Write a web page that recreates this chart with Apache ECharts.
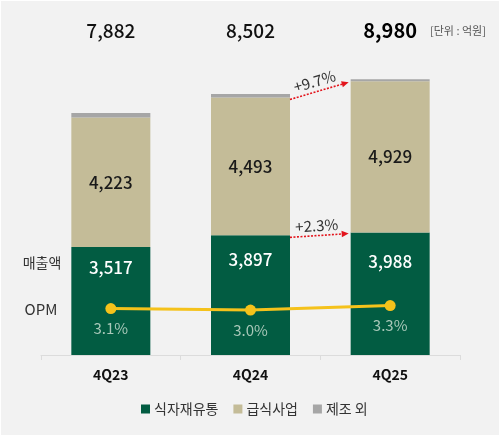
<!DOCTYPE html>
<html>
<head>
<meta charset="utf-8">
<script src="https://cdn.jsdelivr.net/npm/echarts@6/dist/echarts.min.js"></script>
<style>
html,body{margin:0;padding:0;background:#ffffff;}
#c{position:absolute;left:1px;top:1px;width:498px;height:434px;background:#f2f2f2;}
</style>
</head>
<body>
<div id="c"></div>
<script>
// ---- data ----
var categories = ['4Q23', '4Q24', '4Q25'];
var totals = [7882, 8502, 8980];
var foodDistribution = [3517, 3897, 3988];   // 식자재유통
var foodService = [4223, 4493, 4929];        // 급식사업
var opm = [3.1, 3.0, 3.3];
var growthLabels = ['+9.7%', '+2.3%'];
var seriesNames = ['식자재유통', '급식사업', '제조 외'];
var unitText = '[단위 : 억원]';

var manufacturing = totals.map(function (t, i) { return t - foodDistribution[i] - foodService[i]; });

// ---- styles (kept apart from data) ----
var greenLabelDistance = [12, 16, 20];
var FONT = '"Noto Sans CJK KR", "Noto Sans", sans-serif';
var C_GREEN = '#025c42', C_TAN = '#c4bc98', C_GREY = '#a6a6a6', C_LINE = '#f5c21b';
var BAR_W = 79;

var chart = echarts.init(document.getElementById('c'), null, {renderer: 'canvas'});

var option = {
  backgroundColor: '#f2f2f2',
  animation: false,
  grid: {left: 40, right: 39, top: 47, bottom: 80},
  legend: {
    data: seriesNames,
    bottom: 14,
    left: 135,
    icon: 'rect',
    itemWidth: 9, itemHeight: 9, itemGap: 15,
    textStyle: {fontFamily: FONT, fontSize: 14, color: '#333333', padding: [0, 0, 0, -1]}
  },
  xAxis: [{
    type: 'category',
    data: categories,
    axisLine: {lineStyle: {color: '#dcdcdc', width: 1}},
    axisTick: {show: true, length: 5, lineStyle: {color: '#dcdcdc'}},
    axisLabel: {margin: 13, fontFamily: FONT, fontSize: 14, fontWeight: 'bold', color: '#111111'}
  }, {
    type: 'category',
    position: 'top',
    data: totals.map(function (t) { return t.toLocaleString('en-US'); }),
    axisLine: {show: false}, axisTick: {show: false},
    axisLabel: {
      margin: 8,
      formatter: function (v, i) { return i === totals.length - 1 ? '{b|' + v + '}' : '{n|' + v + '}'; },
      rich: {
        n: {fontFamily: FONT, fontSize: 19, fontWeight: 500, color: '#111111'},
        b: {fontFamily: FONT, fontSize: 20, fontWeight: 'bold', color: '#000000'}
      }
    }
  }],
  yAxis: [{
    type: 'value', min: 0, max: 10000, show: false, splitLine: {show: false}
  }, {
    type: 'value', min: 0, max: 20.5, show: false, splitLine: {show: false}
  }],
  series: [{
    name: seriesNames[0], type: 'bar', stack: 's', barWidth: BAR_W,
    itemStyle: {color: C_GREEN},
    data: foodDistribution.map(function (v, i) {
      return {value: v, label: {distance: greenLabelDistance[i]}};
    }),
    label: {
      show: true, position: 'insideTop',
      formatter: function (p) { return p.value.toLocaleString('en-US'); },
      fontFamily: FONT, fontSize: 17, fontWeight: 500, color: '#ffffff'
    }
  }, {
    name: seriesNames[1], type: 'bar', stack: 's', barWidth: BAR_W,
    itemStyle: {color: C_TAN},
    data: foodService,
    label: {
      show: true, position: 'inside',
      formatter: function (p) { return p.value.toLocaleString('en-US'); },
      fontFamily: FONT, fontSize: 17, fontWeight: 500, color: '#1a1a1a'
    }
  }, {
    name: seriesNames[2], type: 'bar', stack: 's', barWidth: BAR_W,
    itemStyle: {color: C_GREY},
    data: manufacturing
  }, {
    name: 'OPM', type: 'line', yAxisIndex: 1,
    data: opm,
    symbol: 'circle', symbolSize: 11,
    lineStyle: {color: C_LINE, width: 3},
    itemStyle: {color: C_LINE},
    label: {
      show: true, position: 'bottom', distance: 7,
      formatter: function (p) { return p.value.toFixed(1) + '%'; },
      fontFamily: FONT, fontSize: 15, color: '#a9c8b9'
    },
    z: 5
  }],
  graphic: [{
    type: 'text', left: 429, top: 24,
    style: {text: unitText, fontFamily: FONT, fontSize: 11, fill: '#555555'}
  }, {
    type: 'text', x: 41, y: 262,
    style: {text: '매출액', fontFamily: FONT, fontSize: 14, fill: '#333333', textAlign: 'center', textVerticalAlign: 'middle'}
  }, {
    type: 'text', x: 40, y: 308,
    style: {text: 'OPM', fontFamily: FONT, fontSize: 15, fill: '#333333', textAlign: 'center', textVerticalAlign: 'middle'}
  }]
};
chart.setOption(option);

// growth arrows between bar 2 and bar 3, positioned through the chart's scales
function arrowGraphics(fromVal, toVal, text) {
  var p1 = chart.convertToPixel({xAxisIndex: 0, yAxisIndex: 0}, [1, fromVal]);
  var p2 = chart.convertToPixel({xAxisIndex: 0, yAxisIndex: 0}, [2, toVal]);
  var x1 = p1[0] + BAR_W / 2, y1 = p1[1] + 2;
  var x2 = p2[0] - BAR_W / 2 - 2, y2 = p2[1] + 1;
  var ang = Math.atan2(y2 - y1, x2 - x1);
  var hl = 7, hw = 3.2;
  var bx = x2 - hl * Math.cos(ang), by = y2 - hl * Math.sin(ang);
  var nx = -Math.sin(ang), ny = Math.cos(ang);
  var mx = (x1 + x2) / 2, my = (y1 + y2) / 2;
  return [{
    type: 'line', shape: {x1: x1, y1: y1, x2: bx, y2: by},
    style: {stroke: '#e3141c', lineWidth: 1.6, lineDash: [2, 1.5]}, z: 10
  }, {
    type: 'polygon', shape: {points: [[x2, y2], [bx + nx * hw, by + ny * hw], [bx - nx * hw, by - ny * hw]]},
    style: {fill: '#e3141c'}, z: 10
  }, {
    type: 'text', x: mx - 2 + nx * -10, y: my + ny * -10, rotation: -ang,
    style: {text: text, fontFamily: FONT, fontSize: 15, fill: '#333333', textAlign: 'center', textVerticalAlign: 'middle'},
    z: 10
  }];
}
var extra = []
  .concat(arrowGraphics(foodDistribution[1] + foodService[1], foodDistribution[2] + foodService[2], growthLabels[0]))
  .concat(arrowGraphics(foodDistribution[1], foodDistribution[2], growthLabels[1]));
chart.setOption({graphic: option.graphic.concat(extra)});
</script>
</body>
</html>
